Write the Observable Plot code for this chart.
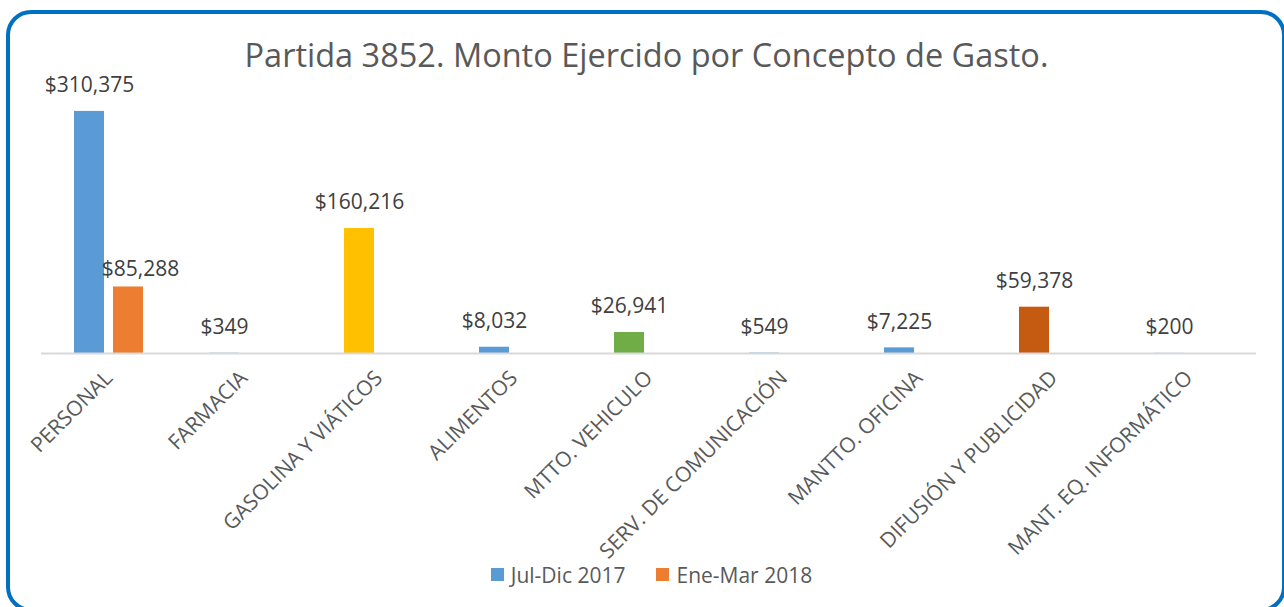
<!DOCTYPE html>
<html>
<head>
<meta charset="utf-8">
<script src="https://cdn.jsdelivr.net/npm/d3@7"></script>
<script src="https://cdn.jsdelivr.net/npm/@observablehq/plot@0.6"></script>
<style>
  html, body { margin: 0; padding: 0; background: #fff; }
  body { width: 1284px; height: 607px; position: relative; overflow: hidden; font-family: "Open Sans", sans-serif; }
  #frame { position: absolute; left: 6px; top: 10px; width: 1280px; height: 602px; box-sizing: border-box;
           border: 4px solid #0070C0; border-radius: 25px; }
  #title { position: absolute; left: 0; width: 1293px; top: 33px; text-align: center;
           font-size: 32.5px; color: #595959; line-height: 44px; white-space: nowrap; }
  #chart { position: absolute; left: 0; top: 0; }
  #legend { position: absolute; left: 0; width: 1303px; top: 558px; display: flex; justify-content: center; }
  .lg-swatch { margin-right: 31px !important; }
  .lg-swatch:last-child { margin-right: 0 !important; }
  .lg-swatch > svg { margin-right: 7px !important; }
</style>
</head>
<body>
<div id="frame"></div>
<div id="chart"></div>
<div id="title">Partida 3852. Monto Ejercido por Concepto de Gasto.</div>
<div id="legend"></div>
<script>
const categories = ["PERSONAL", "FARMACIA", "GASOLINA Y VIÁTICOS", "ALIMENTOS", "MTTO. VEHICULO",
  "SERV. DE COMUNICACIÓN", "MANTTO. OFICINA", "DIFUSIÓN Y PUBLICIDAD", "MANT. EQ. INFORMÁTICO"];
const seriesNames = ["Jul-Dic 2017", "Ene-Mar 2018"];
const julDic2017 = [310375, 349, 160216, 8032, 26941, 549, 7225, 59378, 200];
const eneMar2018 = [85288, null, null, null, null, null, null, null, null];
const pointColors = ["#5B9BD5", "#5B9BD5", "#FFC000", "#5B9BD5", "#70AD47", "#5B9BD5", "#5B9BD5", "#C55A11", "#5B9BD5"];
const seriesColors = ["#5B9BD5", "#ED7D31"];

const data = [];
categories.forEach((c, i) => {
  if (julDic2017[i] != null) data.push({cat: c, serie: seriesNames[0], value: julDic2017[i], color: pointColors[i]});
  if (eneMar2018[i] != null) data.push({cat: c, serie: seriesNames[1], value: eneMar2018[i], color: seriesColors[1]});
});
const fmt = d => "$" + d3.format(",")(d.value);

const chart = Plot.plot({
  width: 1284,
  height: 607,
  marginLeft: 39,
  marginRight: 26,
  marginTop: 80,
  marginBottom: 254,
  style: {background: "transparent", fontFamily: "Open Sans, sans-serif"},
  fx: {domain: categories, padding: 0, label: null, axis: null},
  x: {domain: seriesNames, paddingInner: 0.228, paddingOuter: 0.825, axis: null},
  y: {domain: [0, 350000], axis: null},
  marks: [
    Plot.barY(data, {fx: "cat", x: "serie", y: "value", fill: "color"}),
    Plot.ruleY([0], {stroke: "#D9D9D9", strokeWidth: 2}),
    Plot.text(data.filter(d => d.serie === seriesNames[0]), {fx: "cat", x: "serie", y: "value", text: fmt,
      lineAnchor: "middle", dy: -26, fill: "#404040", fontSize: 21}),
    Plot.text(data.filter(d => d.serie === seriesNames[1]), {fx: "cat", x: "serie", y: "value", text: fmt,
      lineAnchor: "middle", dy: -18, dx: 12, fill: "#404040", fontSize: 21}),
    Plot.axisFx({anchor: "bottom", tickRotate: -45, tickSize: 0, tickPadding: 21, fontSize: 21, fill: "#595959", label: null})
  ]
});
document.getElementById("chart").appendChild(chart);

const legend = Plot.legend({
  color: {type: "ordinal", domain: seriesNames, range: seriesColors},
  swatchSize: 13,
  className: "lg",
  style: {fontSize: "21px", color: "#595959", fontFamily: "Open Sans, sans-serif"}
});
document.getElementById("legend").appendChild(legend);
</script>
</body>
</html>
